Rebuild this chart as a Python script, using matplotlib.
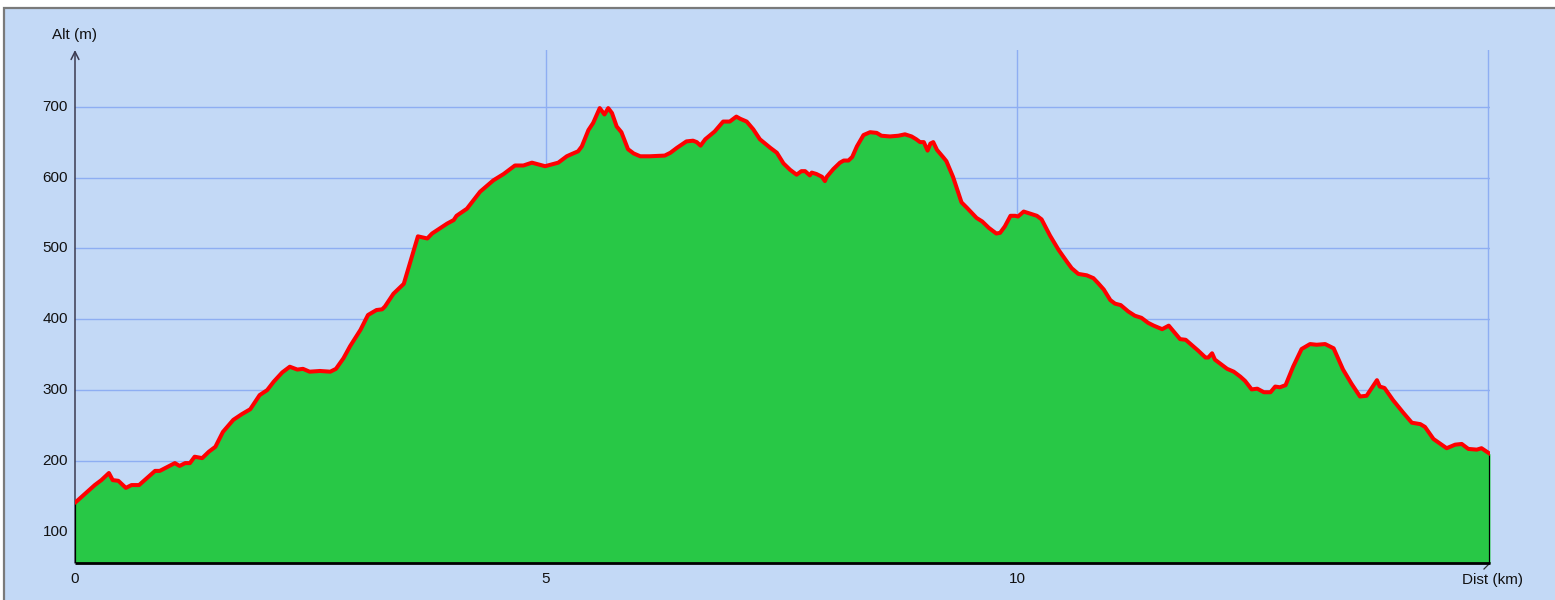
import matplotlib
matplotlib.use("Agg")
import matplotlib.pyplot as plt
from matplotlib.patches import Rectangle

# ---- data ----
dist_km = [0.00, 0.21, 0.28, 0.36, 0.40, 0.46, 0.54, 0.60, 0.68, 0.85, 0.90, 1.06, 1.11, 1.17,
           1.22, 1.27, 1.35, 1.42, 1.49, 1.57, 1.68, 1.77, 1.86, 1.96, 2.04, 2.11, 2.20, 2.28,
           2.36, 2.42, 2.49, 2.60, 2.71, 2.77, 2.85, 2.92, 3.03, 3.11, 3.20, 3.26, 3.29, 3.38,
           3.49, 3.64, 3.74, 3.79, 3.95, 4.02, 4.05, 4.16, 4.30, 4.44, 4.55, 4.67, 4.76, 4.85,
           4.99, 5.13, 5.22, 5.27, 5.34, 5.38, 5.45, 5.50, 5.56, 5.57, 5.62, 5.66, 5.70, 5.75,
           5.80, 5.87, 5.93, 6.00, 6.10, 6.26, 6.32, 6.39, 6.49, 6.56, 6.60, 6.64, 6.69, 6.79,
           6.88, 6.95, 7.02, 7.06, 7.13, 7.20, 7.27, 7.38, 7.45, 7.52, 7.59, 7.66, 7.71, 7.75,
           7.80, 7.82, 7.87, 7.93, 7.96, 7.98, 8.05, 8.12, 8.16, 8.21, 8.25, 8.30, 8.37, 8.44,
           8.51, 8.56, 8.65, 8.74, 8.81, 8.88, 8.93, 8.97, 9.01, 9.05, 9.08, 9.11, 9.15, 9.22,
           9.25, 9.32, 9.41, 9.47, 9.57, 9.63, 9.70, 9.78, 9.82, 9.87, 9.93, 9.98, 10.01, 10.07,
           10.14, 10.21, 10.26, 10.35, 10.44, 10.53, 10.58, 10.65, 10.74, 10.81, 10.86, 10.92,
           10.99, 11.04, 11.10, 11.18, 11.25, 11.32, 11.39, 11.45, 11.54, 11.61, 11.66, 11.73,
           11.79, 11.85, 11.92, 12.00, 12.03, 12.07, 12.10, 12.17, 12.23, 12.30, 12.37, 12.42,
           12.49, 12.55, 12.62, 12.69, 12.74, 12.79, 12.85, 12.93, 13.02, 13.11, 13.18, 13.27,
           13.36, 13.46, 13.55, 13.64, 13.71, 13.82, 13.85, 13.90, 13.99, 14.10, 14.19, 14.28,
           14.33, 14.42, 14.56, 14.65, 14.72, 14.79, 14.88, 14.93, 15.02]
alt_m = [141, 166, 173, 183, 173, 172, 162, 166, 166, 186, 186, 197, 193, 197,
         197, 206, 204, 213, 220, 241, 258, 266, 273, 293, 300, 312, 325, 333,
         329, 330, 326, 327, 326, 330, 345, 362, 385, 406, 413, 414, 418, 436,
         450, 517, 514, 521, 535, 540, 546, 556, 580, 596, 605, 617, 617, 621,
         616, 621, 630, 633, 637, 644, 667, 677, 695, 698, 689, 698, 691, 672,
         664, 640, 634, 630, 630, 631, 635, 642, 651, 652, 650, 645, 654, 665,
         679, 679, 686, 683, 679, 668, 654, 642, 635, 620, 611, 604, 609, 609,
         603, 607, 605, 601, 595, 601, 612, 621, 624, 624, 629, 644, 660, 664,
         663, 659, 658, 659, 661, 658, 654, 650, 650, 638, 648, 650, 639, 628,
         623, 601, 565, 557, 543, 538, 529, 521, 522, 531, 546, 546, 545, 552,
         549, 546, 541, 518, 498, 481, 472, 464, 462, 458, 451, 442,
         427, 422, 420, 411, 405, 402, 395, 391, 386, 391, 383, 372,
         371, 364, 356, 346, 346, 352, 343, 336, 330, 326, 319, 313,
         301, 302, 297, 297, 305, 304, 307, 333, 358, 365, 364, 365,
         359, 329, 309, 291, 292, 314, 305, 303, 286, 268, 254, 252,
         248, 231, 218, 223, 224, 217, 216, 218, 210]
y_ticks = [100, 200, 300, 400, 500, 600, 700]
x_ticks = [0, 5, 10]
x_grid = [5, 10, 15]
x_label = "Dist (km)"
y_label = "Alt (m)"

# ---- style ----
BG = "#c3d9f6"
GREEN = "#28c846"
RED = "#ff0000"
GRID = "#8eaef2"
plt.rcParams['font.family'] = ['Liberation Sans', 'DejaVu Sans']

W, H = 1555, 600
fig = plt.figure(figsize=(W / 100, H / 100), dpi=100)
fig.patch.set_facecolor("white")

# outer panel with grey frame (background axes)
bgax = fig.add_axes([0, 0, 1, 1], zorder=0)
bgax.set_xlim(0, W)
bgax.set_ylim(H, 0)
bgax.axis("off")
bgax.add_patch(Rectangle((3.5, 7.5), W + 20, H + 20, facecolor=BG, edgecolor="#7a7a7a", linewidth=1.6))
# small diagonal mark at x-axis end
bgax.plot([1490, 1484], [563, 569], color="#333333", lw=0.9)

x0, x1 = 75, 1490
yb, yt = 563, 50
ax = fig.add_axes([x0 / W, 1 - yb / H, (x1 - x0) / W, (yb - yt) / H], zorder=2)
ax.set_facecolor("none")
xmax = dist_km[-1]
ymin, ymax = 56, 780
ax.set_xlim(0, xmax)
ax.set_ylim(ymin, ymax)

for v in y_ticks:
    ax.axhline(v, color=GRID, lw=1.0, zorder=1)
for v in x_grid:
    ax.axvline(v, color=GRID, lw=1.0, zorder=1)

ax.fill_between(dist_km, alt_m, ymin, color=GREEN, lw=0, zorder=2)
ax.plot(dist_km, alt_m, color=RED, lw=2.9, zorder=4, solid_joinstyle='round', solid_capstyle='round')
ax.plot([0, 0], [ymin, alt_m[0]], color="black", lw=1.6, zorder=3)
ax.plot([xmax, xmax], [ymin, alt_m[-1]], color="black", lw=1.6, zorder=3)

for s in ax.spines.values():
    s.set_visible(False)
ax.plot([0, xmax], [ymin, ymin], color="black", lw=2.0, zorder=5, clip_on=False, solid_capstyle='butt')
# y axis with arrow
ax.annotate("", xy=(0, 1.0), xytext=(0, 0), xycoords="axes fraction",
            arrowprops=dict(arrowstyle="->", color="#3a3a50", lw=1.1, shrinkA=0, shrinkB=0,
                            mutation_scale=14), zorder=1)

ax.set_xticks([])
ax.set_yticks([])
fs = 11
for v in y_ticks:
    yy = 1 - (563 - (v - ymin) / (ymax - ymin) * (563 - 50)) / H
    fig.text(68 / W, yy, str(v), ha="right", va="center", fontsize=fs, color="#111111")
for v in x_ticks:
    xx = (75 + v / xmax * (1490 - 75)) / W
    fig.text(xx, 1 - 579 / H, str(v), ha="center", va="center", fontsize=fs, color="#111111")
fig.text(75 / W, 1 - 35 / H, y_label, ha="center", va="center", fontsize=fs, color="#111111")
fig.text(1492 / W, 1 - 580 / H, x_label, ha="center", va="center", fontsize=fs, color="#111111")

fig.savefig("out.png", dpi=100, facecolor=fig.get_facecolor())
